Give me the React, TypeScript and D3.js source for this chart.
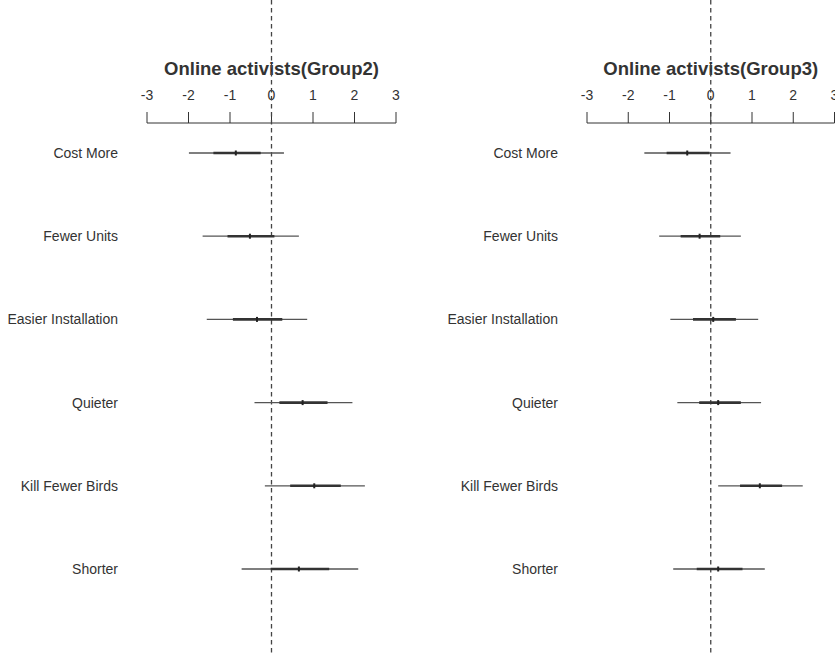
import React from "react";
import * as d3 from "d3";

const categories = ["Cost More", "Fewer Units", "Easier Installation", "Quieter", "Kill Fewer Birds", "Shorter"];
const ticks = [-3, -2, -1, 0, 1, 2, 3];

// Group 2
const g2Est = [-0.86, -0.52, -0.35, 0.75, 1.03, 0.66];
const g2Lo95 = [-1.99, -1.66, -1.56, -0.41, -0.16, -0.72];
const g2Hi95 = [0.30, 0.66, 0.86, 1.95, 2.25, 2.09];
const g2Lo50 = [-1.40, -1.06, -0.93, 0.19, 0.45, -0.02];
const g2Hi50 = [-0.26, 0.07, 0.26, 1.35, 1.67, 1.39];

// Group 3
const g3Est = [-0.57, -0.27, 0.06, 0.18, 1.19, 0.18];
const g3Lo95 = [-1.61, -1.25, -0.98, -0.81, 0.18, -0.91];
const g3Hi95 = [0.48, 0.73, 1.15, 1.22, 2.23, 1.31];
const g3Lo50 = [-1.07, -0.73, -0.43, -0.28, 0.71, -0.34];
const g3Hi50 = [-0.03, 0.23, 0.61, 0.73, 1.73, 0.77];

const W = 835;
const H = 655;
const FONT = "Liberation Sans, Arial, sans-serif";
const TXT = "#333";

type PanelProps = {
  title: string;
  range: [number, number];
  labelX: number;
  est: number[];
  lo95: number[];
  hi95: number[];
  lo50: number[];
  hi50: number[];
};

const y = d3.scalePoint<string>().domain(categories).range([153, 569]);

function Panel({ title, range, labelX, est, lo95, hi95, lo50, hi50 }: PanelProps) {
  const x = d3.scaleLinear().domain([-3, 3]).range(range);
  const axisY = 123;
  return (
    <g>
      <text x={x(0)} y={75} textAnchor="middle" fontFamily={FONT} fontWeight="bold" fontSize={18.5} fill={TXT}>
        {title}
      </text>
      <line x1={x(-3)} x2={x(3)} y1={axisY} y2={axisY} stroke={TXT} strokeWidth={1} />
      {ticks.map((t) => (
        <g key={t}>
          <line x1={x(t)} x2={x(t)} y1={axisY} y2={axisY - 11} stroke={TXT} strokeWidth={1} />
          <text x={x(t)} y={100} textAnchor="middle" fontFamily={FONT} fontSize={14} fill={TXT}>
            {t}
          </text>
        </g>
      ))}
      <line x1={x(0)} x2={x(0)} y1={0} y2={H} stroke="#444" strokeWidth={1.3} strokeDasharray="4.5,3.5" />
      {categories.map((c, i) => {
        const yy = y(c)!;
        return (
          <g key={c}>
            <text x={labelX} y={yy + 5} textAnchor="end" fontFamily={FONT} fontSize={14} fill={TXT}>
              {c}
            </text>
            <line x1={x(lo95[i])} x2={x(hi95[i])} y1={yy} y2={yy} stroke="#555" strokeWidth={1.3} />
            <line x1={x(lo50[i])} x2={x(hi50[i])} y1={yy} y2={yy} stroke="#333" strokeWidth={2.6} />
            <line x1={x(est[i])} x2={x(est[i])} y1={yy - 2.5} y2={yy + 2.5} stroke="#222" strokeWidth={2} />
          </g>
        );
      })}
    </g>
  );
}

export default function App() {
  return (
    <svg width={W} height={H} style={{ display: "block", position: "absolute", left: 0, top: 0, background: "#fff" }}>
      <rect width={W} height={H} fill="#fff" />
      <Panel title="Online activists(Group2)" range={[147, 396]} labelX={118} est={g2Est} lo95={g2Lo95} hi95={g2Hi95} lo50={g2Lo50} hi50={g2Hi50} />
      <Panel title="Online activists(Group3)" range={[587, 834.5]} labelX={558} est={g3Est} lo95={g3Lo95} hi95={g3Hi95} lo50={g3Lo50} hi50={g3Hi50} />
    </svg>
  );
}
